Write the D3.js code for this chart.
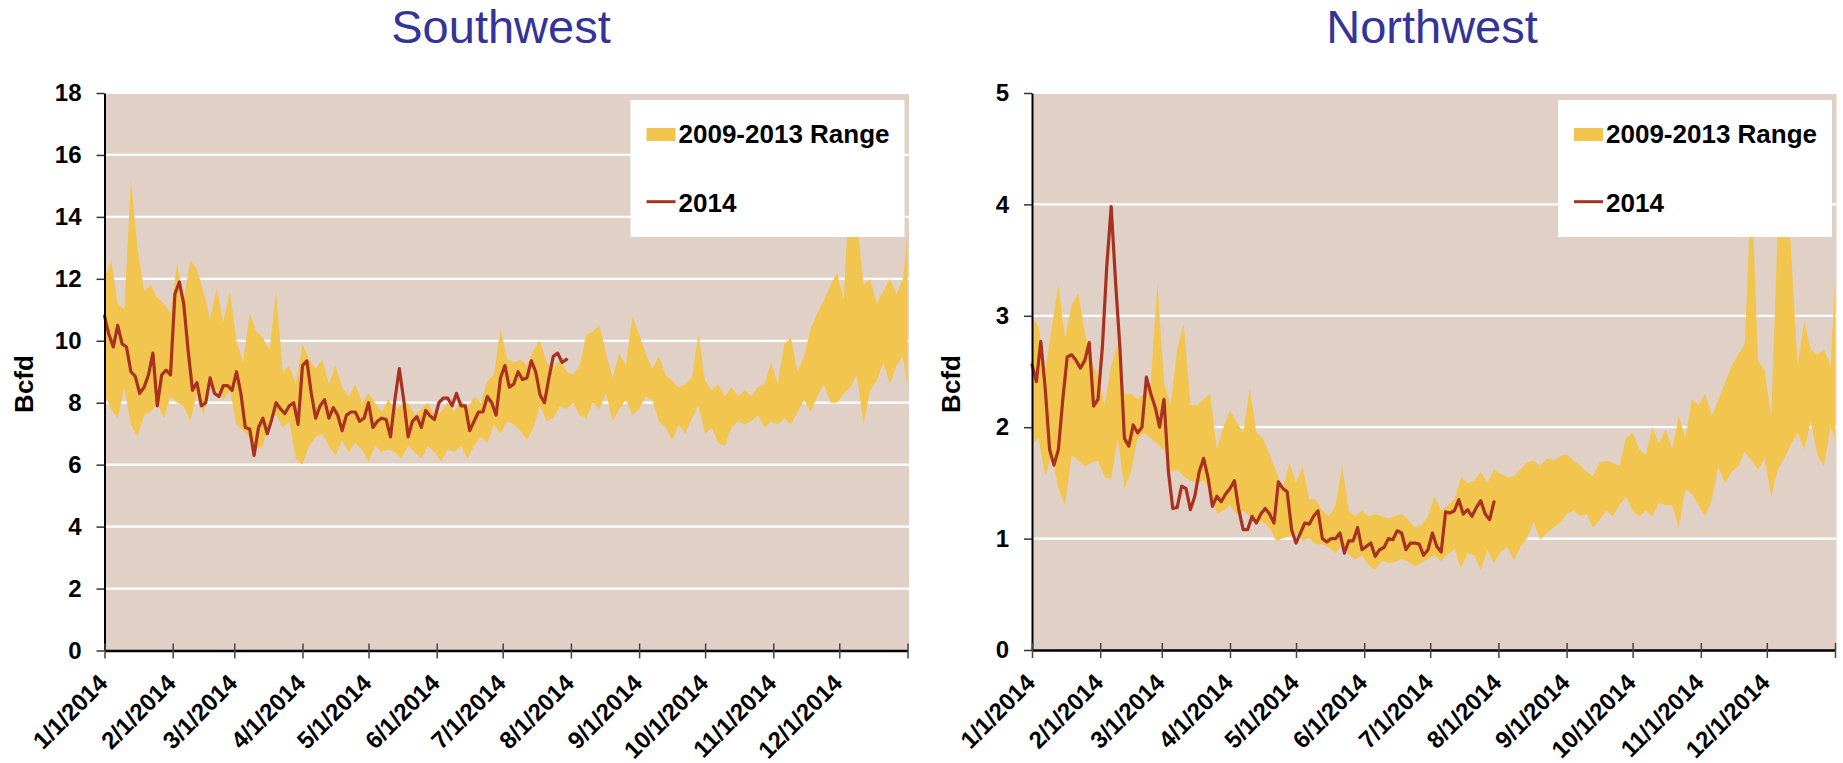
<!DOCTYPE html>
<html><head><meta charset="utf-8">
<script src="https://cdn.jsdelivr.net/npm/d3@7"></script>
<style>
body{margin:0;background:#fff;}
svg{display:block;font-family:"Liberation Sans",Arial,Helvetica,sans-serif;}
</style></head><body>
<svg id="c" width="1843" height="763"></svg>
<script>
// ---------------- DATA ----------------
const monthLabels = ["1/1/2014","2/1/2014","3/1/2014","4/1/2014","5/1/2014","6/1/2014",
  "7/1/2014","8/1/2014","9/1/2014","10/1/2014","11/1/2014","12/1/2014"];
const legendRangeLabel = "2009-2013 Range";
const legendLineLabel = "2014";

// day offsets from 1/1/2014 (x categories)
const bandDays = d3.range(0, 364, 3).concat([365]);
const lineDays = d3.range(0, 211, 2);

// Southwest (Bcfd)
const swTicks = [0,2,4,6,8,10,12,14,16,18];
const swHigh = [12.0,12.6,11.2,11.0,15.2,13.0,11.6,11.8,11.4,11.2,
  10.9,12.5,11.3,12.6,12.3,11.6,10.7,11.7,10.6,11.6,
  10.0,9.3,10.9,10.3,10.1,9.7,11.6,9.0,9.2,8.6,
  9.9,9.4,9.1,9.4,8.6,9.2,8.5,8.2,8.6,8.0,
  8.3,8.0,7.7,8.1,7.8,7.9,8.0,7.6,7.8,8.0,
  7.6,7.7,8.0,7.7,8.1,7.8,8.2,8.0,8.7,8.9,
  10.4,9.4,9.3,9.4,9.2,9.7,10.0,9.3,9.1,9.4,
  9.0,8.9,9.2,10.2,10.3,10.5,9.6,8.8,9.6,9.2,
  10.8,10.2,9.6,9.1,9.5,8.9,8.7,8.5,8.6,8.8,
  10.2,8.7,8.4,8.6,8.2,8.5,8.2,8.4,8.2,8.5,
  8.6,9.3,8.6,9.9,10.1,9.0,9.5,10.4,10.9,11.3,
  11.8,12.2,11.3,15.5,14.0,11.8,12.0,11.2,11.6,12.0,
  11.5,12.0,13.5];
const swLow = [8.3,7.8,7.5,8.5,7.3,6.9,7.6,7.7,8.0,7.5,
  8.2,8.0,7.9,7.4,8.3,7.6,8.6,8.4,8.1,8.4,
  7.3,7.1,6.9,6.5,6.6,7.5,7.6,7.2,7.4,6.2,
  6.0,6.6,6.9,7.0,6.6,6.3,6.8,6.4,6.7,6.5,
  6.1,6.6,6.4,6.5,6.4,6.2,6.6,6.4,6.2,6.6,
  6.4,6.1,6.5,6.4,6.6,6.2,6.6,6.9,6.7,7.3,
  7.0,7.4,7.3,7.1,6.8,7.2,7.9,7.4,7.5,7.9,
  7.8,8.0,7.6,7.5,8.0,7.8,8.3,7.4,7.8,8.1,
  7.6,7.8,8.2,8.1,7.4,7.2,6.8,7.3,7.0,7.5,
  7.9,7.0,7.2,6.7,6.6,7.2,7.4,7.3,7.4,7.6,
  7.2,7.4,7.3,7.5,7.3,7.7,8.1,7.7,8.2,8.6,
  8.0,8.0,8.3,8.5,8.9,7.3,8.4,8.7,9.3,8.6,
  9.2,9.5,8.5];
const sw2014 = [10.8,10.2,9.8,10.5,9.9,9.8,9.0,8.85,8.3,8.5,
  8.9,9.6,7.9,8.9,9.05,8.9,11.5,11.9,11.2,9.7,
  8.4,8.65,7.9,8.0,8.8,8.3,8.2,8.55,8.55,8.4,
  9.0,8.3,7.2,7.15,6.3,7.2,7.5,7.0,7.46,8.0,
  7.8,7.65,7.9,8.0,7.3,9.2,9.35,8.3,7.5,7.9,
  8.1,7.5,7.84,7.6,7.1,7.6,7.7,7.7,7.4,7.5,
  8.0,7.2,7.4,7.5,7.46,6.9,8.1,9.1,8.1,6.9,
  7.4,7.55,7.2,7.75,7.57,7.46,8.0,8.15,8.15,7.9,
  8.3,7.9,7.9,7.1,7.4,7.7,7.7,8.2,8.0,7.6,
  8.8,9.2,8.5,8.6,9.0,8.75,8.8,9.35,9.0,8.25,
  8.0,8.8,9.5,9.6,9.3,9.4];

// Northwest (Bcfd)
const nwTicks = [0,1,2,3,4,5];
const nwHigh = [3.0,2.9,2.5,2.9,3.28,2.8,3.1,3.2,2.85,2.6,
  2.45,2.2,2.55,2.75,2.3,2.3,2.25,2.3,2.4,3.3,
  2.4,2.2,2.7,2.93,2.2,2.2,2.25,2.3,1.8,2.0,
  2.15,2.05,1.95,2.35,1.95,1.9,1.75,1.6,1.45,1.68,
  1.5,1.65,1.35,1.35,1.25,1.2,1.3,1.65,1.25,1.2,
  1.25,1.2,1.22,1.2,1.18,1.2,1.22,1.17,1.1,1.12,
  1.2,1.38,1.25,1.3,1.35,1.55,1.5,1.52,1.6,1.5,
  1.62,1.58,1.55,1.56,1.62,1.68,1.7,1.65,1.72,1.7,
  1.74,1.76,1.7,1.66,1.6,1.56,1.68,1.7,1.68,1.65,
  1.9,1.95,1.8,1.75,2.0,1.85,1.98,1.8,2.1,1.9,
  2.25,2.2,2.3,2.1,2.25,2.4,2.55,2.65,2.75,4.2,
  2.6,2.5,2.1,3.8,4.4,3.6,2.55,2.95,2.7,2.65,
  2.7,2.55,3.3];
const nwLow = [1.85,1.9,1.56,1.75,1.45,1.3,1.75,1.7,1.65,1.68,
  1.7,1.55,1.54,1.9,1.45,1.6,1.9,1.95,1.9,1.85,
  1.8,1.6,1.62,1.56,1.52,1.5,1.52,1.45,1.22,1.25,
  1.3,1.22,1.25,1.2,1.15,1.15,1.1,0.98,1.0,1.02,
  1.05,0.98,1.0,0.95,0.95,0.92,0.87,0.95,0.86,0.81,
  0.85,0.76,0.72,0.8,0.78,0.79,0.82,0.79,0.75,0.78,
  0.82,0.85,0.8,0.86,0.91,0.73,0.87,0.85,0.72,0.9,
  0.78,0.88,0.93,0.8,0.93,1.0,1.15,0.99,1.05,1.1,
  1.14,1.22,1.25,1.2,1.22,1.1,1.17,1.25,1.2,1.3,
  1.38,1.25,1.2,1.25,1.2,1.32,1.3,1.3,1.1,1.45,
  1.4,1.3,1.2,1.35,1.65,1.5,1.6,1.65,1.78,1.7,
  1.62,1.72,1.38,1.62,1.72,1.85,1.95,1.8,2.05,1.75,
  1.65,2.0,1.9];
const nw2014 = [2.56,2.41,2.77,2.35,1.8,1.66,1.8,2.25,2.63,2.65,
  2.6,2.53,2.6,2.76,2.19,2.25,2.72,3.45,3.98,3.3,
  2.7,1.9,1.83,2.02,1.95,2.0,2.45,2.3,2.18,2.0,
  2.25,1.6,1.27,1.28,1.47,1.45,1.26,1.38,1.6,1.72,
  1.55,1.29,1.38,1.33,1.4,1.45,1.52,1.26,1.08,1.08,
  1.2,1.14,1.22,1.27,1.22,1.14,1.51,1.45,1.42,1.08,
  0.96,1.05,1.14,1.13,1.2,1.25,1.0,0.97,1.0,1.0,
  1.05,0.87,0.98,0.98,1.1,0.9,0.93,0.96,0.84,0.9,
  0.92,1.0,0.99,1.07,1.05,0.9,0.96,0.96,0.95,0.85,
  0.9,1.05,0.93,0.88,1.24,1.23,1.25,1.35,1.22,1.26,
  1.2,1.28,1.34,1.22,1.17,1.33];

// ---------------- DRAW ----------------
const COLORS = {bg:"#E0D0C6", band:"#F2C54E", line:"#A8321F", title:"#333399"};
const start = new Date(Date.UTC(2014,0,1));
const end = new Date(Date.UTC(2015,0,1));
const dayDate = d => d3.utcDay.offset(start, d);
const monthDates = d3.utcMonth.range(start, d3.utcDay.offset(end,1));
const svg = d3.select("#c");

function drawChart(cfg){
  const g = svg.append("g");
  const x = d3.scaleUtc().domain([start, end]).range([cfg.left, cfg.right]);
  const y = d3.scaleLinear().domain([0, d3.max(cfg.ticks)]).range([cfg.bottom, cfg.top]);

  g.append("rect").attr("x", cfg.left).attr("y", cfg.top)
    .attr("width", cfg.right - cfg.left + 1.5).attr("height", cfg.bottom - cfg.top)
    .attr("fill", COLORS.bg);

  g.selectAll("line.grid").data(cfg.ticks.filter(t => t > 0)).enter().append("line")
    .attr("class","grid")
    .attr("x1", cfg.left).attr("x2", cfg.right + 1.5)
    .attr("y1", d => y(d)).attr("y2", d => y(d))
    .attr("stroke", "#fff").attr("stroke-width", 2.2);

  const band = bandDays.map((d,i) => ({date: dayDate(d), hi: cfg.hi[i], lo: cfg.lo[i]}));
  g.append("path").datum(band)
    .attr("d", d3.area().x(d => x(d.date)).y0(d => y(d.lo)).y1(d => y(d.hi)))
    .attr("fill", COLORS.band);

  const ln = lineDays.map((d,i) => ({date: dayDate(d), v: cfg.line[i]}));
  g.append("path").datum(ln)
    .attr("d", d3.line().x(d => x(d.date)).y(d => y(d.v)))
    .attr("fill","none").attr("stroke", COLORS.line).attr("stroke-width", 3.2)
    .attr("stroke-linejoin","round").attr("stroke-linecap","round");

  // y axis
  const ya = g.append("g").attr("transform", `translate(${cfg.left},0)`)
    .call(d3.axisLeft(y).tickValues(cfg.ticks).tickSize(8).tickSizeOuter(0).tickPadding(15).tickFormat(d3.format("d")));
  ya.select(".domain").attr("stroke","#000").attr("stroke-width",2);
  ya.selectAll(".tick line").attr("stroke","#333").attr("stroke-width",1.5);
  ya.selectAll(".tick text").attr("font-size",24).attr("font-weight","bold").attr("fill","#000")
    .attr("font-family",'"Liberation Sans",Arial,sans-serif');

  // x axis
  const xa = g.append("g").attr("transform", `translate(0,${cfg.bottom})`)
    .call(d3.axisBottom(x).tickValues(monthDates).tickSizeOuter(0)
      .tickFormat((d,i) => monthLabels[i] || ""));
  xa.select(".domain").attr("stroke","#000").attr("stroke-width",2.5);
  xa.selectAll(".tick line").attr("y1",-7).attr("y2",8).attr("stroke","#444").attr("stroke-width",1.5);
  xa.selectAll(".tick text").attr("x",0).attr("y",0).attr("dy",0)
    .attr("text-anchor","end").attr("transform","translate(4,34) rotate(-45)")
    .attr("font-size",24).attr("font-weight","bold").attr("fill","#000")
    .attr("font-family",'"Liberation Sans",Arial,sans-serif');

  // title
  g.append("text").attr("x", cfg.titleX).attr("y", 43).attr("text-anchor","middle")
    .attr("font-size",47).attr("fill",COLORS.title).text(cfg.title);

  // y label
  g.append("text").attr("transform", `translate(${cfg.left - 72},384) rotate(-90)`)
    .attr("text-anchor","middle").attr("font-size",26).attr("font-weight","bold")
    .attr("fill","#000").text("Bcfd");

  // legend
  const lx = cfg.right - 277;
  const lg = g.append("g");
  lg.append("rect").attr("x",lx).attr("y",cfg.top+7).attr("width",274).attr("height",137).attr("fill","#fff");
  lg.append("rect").attr("x",lx+16).attr("y",128).attr("width",29).attr("height",13).attr("fill",COLORS.band);
  lg.append("text").attr("x",lx+48).attr("y",143.3).attr("font-size",26).attr("font-weight","bold")
    .attr("fill","#000").text(legendRangeLabel);
  lg.append("line").attr("x1",lx+16).attr("x2",lx+45).attr("y1",201.7).attr("y2",201.7)
    .attr("stroke",COLORS.line).attr("stroke-width",3);
  lg.append("text").attr("x",lx+48).attr("y",211.7).attr("font-size",26).attr("font-weight","bold")
    .attr("fill","#000").text(legendLineLabel);
}

drawChart({title:"Southwest", titleX:501, left:104.5, right:907.5, top:93, bottom:650.5,
  ticks: swTicks, hi: swHigh, lo: swLow, line: sw2014});
drawChart({title:"Northwest", titleX:1432, left:1032, right:1835, top:93, bottom:650,
  ticks: nwTicks, hi: nwHigh, lo: nwLow, line: nw2014});
</script>
</body></html>
